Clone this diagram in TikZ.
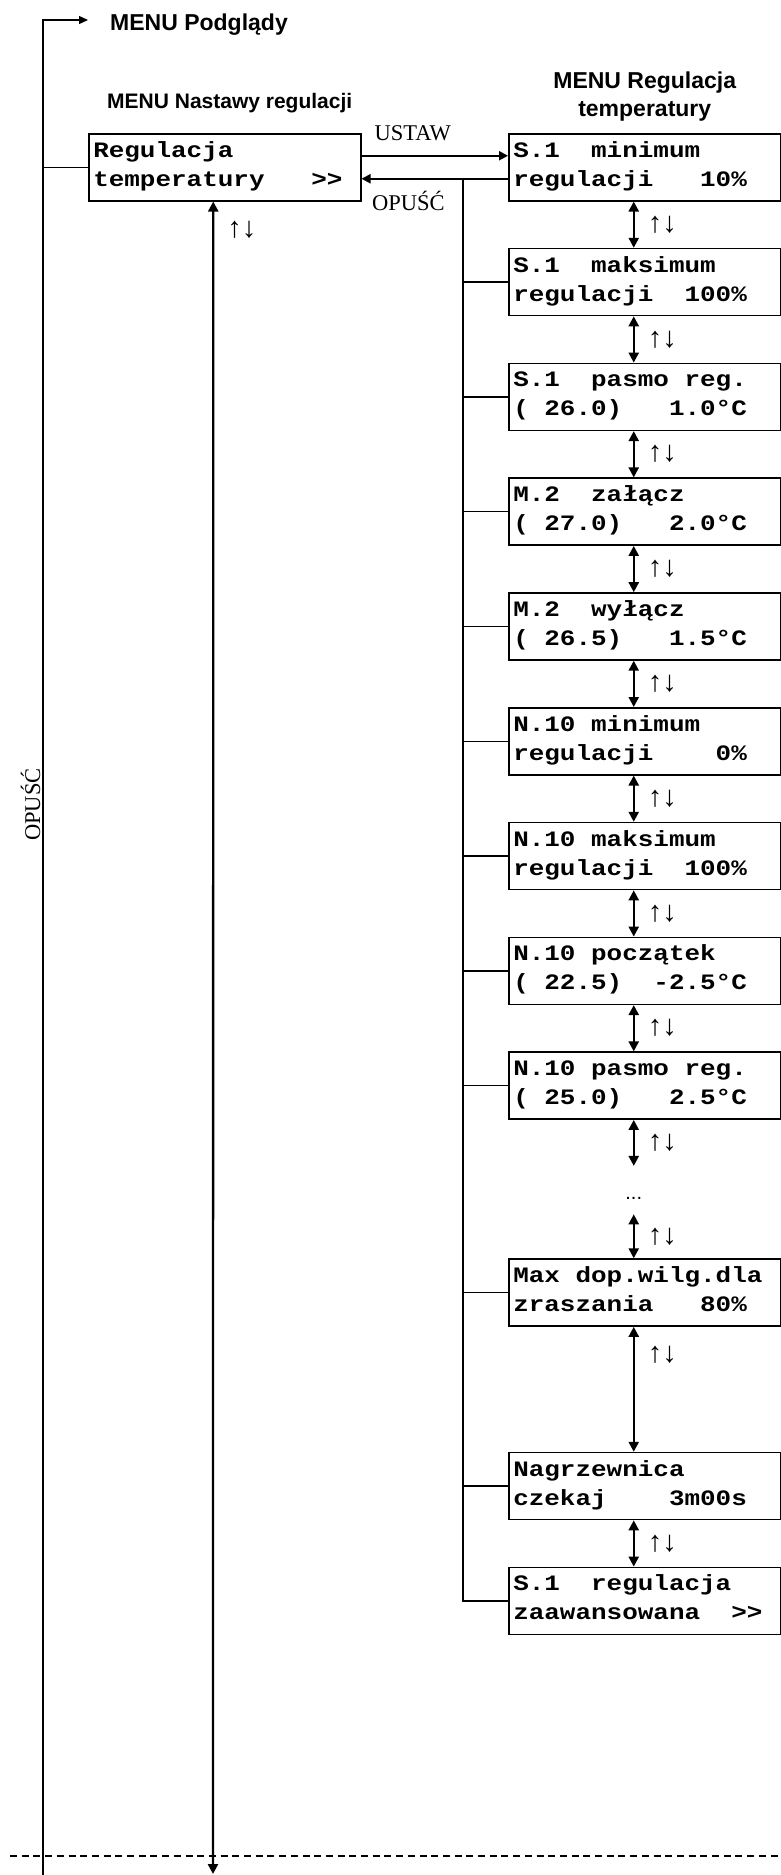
\documentclass[tikz,border=0pt]{standalone}
\usepackage{fontspec}
\setmainfont{Liberation Serif}
\newfontfamily\lcdfont{Liberation Mono}[FakeStretch=1.18]
\newfontfamily\headfont{Liberation Sans}
\usetikzlibrary{arrows.meta, positioning}
\newcommand{\lcdsp}{\hphantom{0}}

\begin{document}
\begin{tikzpicture}[
    x=1pt, y=-1pt,
    lcd/.style={draw, line width=1.5pt, text width=263pt, inner xsep=4.5pt,
                minimum height=67pt, align=left,
                font=\lcdfont\bfseries\fontsize{22}{29}\selectfont\frenchspacing,
                execute at end node={\rule[-7pt]{0pt}{7pt}}},
    head/.style={font=\headfont\bfseries\fontsize{21}{28}\selectfont,
                 align=center, inner sep=0pt},
    lbl/.style={font=\fontsize{22.5}{27}\selectfont, inner sep=0pt},
    updn/.style={font=\fontsize{29}{30}\selectfont, inner sep=0pt},
    nav/.style={<->, >={Triangle[length=10pt,width=10pt]}, line width=2.3pt},
    arr/.style={->, >={Triangle[length=9pt,width=9pt]}, line width=2pt},
    tie/.style={line width=1.3pt},
    cut/.style={dash pattern=on 7pt off 4.7pt, line width=1.4pt},
    node distance=46.3pt
]
    \useasboundingbox (0,0) rectangle (780,1875);

    % left column
    \node[lcd, anchor=north west] (lb) at (88,133) {Regulacja\\temperatury\lcdsp\lcdsp\lcdsp>\kern0pt>};
    \node[head, above=20pt of lb, xshift=5pt] (hn) {MENU Nastawy regulacji};
    \node[head, font=\headfont\bfseries\fontsize{23}{28}\selectfont,
          inner xsep=22pt, anchor=base west] (pod) at (88,30) {MENU Podglądy};

    % right column
    \node[lcd, anchor=north west] (s1) at (508,133) {S.1\lcdsp\lcdsp minimum\\regulacji\lcdsp\lcdsp\lcdsp 10\%};
    \node[head, font=\headfont\bfseries\fontsize{23}{28}\selectfont,
          above=11.4pt of s1] (hr) {MENU Regulacja\\temperatury};
    \node[lcd, below=of s1] (s2) {S.1\lcdsp\lcdsp maksimum\\regulacji\lcdsp\lcdsp 100\%};
    \node[lcd, below=of s2] (s3) {S.1\lcdsp\lcdsp pasmo\lcdsp reg.\\(\lcdsp 26.0)\lcdsp\lcdsp\lcdsp 1.0°C};
    \node[lcd, below=of s3] (s4) {M.2\lcdsp\lcdsp załącz\\(\lcdsp 27.0)\lcdsp\lcdsp\lcdsp 2.0°C};
    \node[lcd, below=of s4] (s5) {M.2\lcdsp\lcdsp wyłącz\\(\lcdsp 26.5)\lcdsp\lcdsp\lcdsp 1.5°C};
    \node[lcd, below=of s5] (s6) {N.10\lcdsp minimum\\regulacji\lcdsp\lcdsp\lcdsp\lcdsp 0\%};
    \node[lcd, below=of s6] (s7) {N.10\lcdsp maksimum\\regulacji\lcdsp\lcdsp 100\%};
    \node[lcd, below=of s7] (s8) {N.10\lcdsp początek\\(\lcdsp 22.5)\lcdsp\lcdsp -2.5°C};
    \node[lcd, below=of s8] (s9) {N.10\lcdsp pasmo\lcdsp reg.\\(\lcdsp 25.0)\lcdsp\lcdsp\lcdsp 2.5°C};
    \node[font=\headfont\fontsize{20}{24}\selectfont, inner sep=0pt,
          minimum height=48pt, text height=18pt, text depth=0pt,
          below=46pt of s9, xshift=-11pt] (dt) {...};
    \node[lcd, below=44pt of dt, xshift=11pt] (mx) {Max\lcdsp dop.wilg.dla\\zraszania\lcdsp\lcdsp\lcdsp 80\%};
    \node[lcd, below=125pt of mx] (ng) {Nagrzewnica\\czekaj\lcdsp\lcdsp\lcdsp\lcdsp 3m00s};
    \node[lcd, below=of ng] (sz) {S.1\lcdsp\lcdsp regulacja\\zaawansowana\lcdsp\lcdsp>\kern0pt>};

    \coordinate (ltop) at (43,20);
    \coordinate (lend) at (43,1875);
    \coordinate (lbot) at (213,1874);
    \coordinate (bt) at (463,178);
    \coordinate (dl) at (10,1856);
    \coordinate (dr) at (780,1856);

    % back path to MENU Podglady
    \draw[tie, -{Triangle[length=9pt,width=8pt]}] (lend)
        -- node[lbl, pos=0.577, rotate=90, anchor=south, inner sep=2pt]{OPUŚĆ} (ltop)
        -- (ltop -| pod.west);
    \draw[tie] (lb.west) -- (lb.west -| ltop);
    \draw[nav] ([xshift=-11.5pt]lb.south) -- node[updn, pos=0.017, right=13pt]{↑↓} (lbot);

    % enter / leave
    \draw[arr] ([yshift=11.5pt]lb.east) -- node[lbl, pos=0.35, above=14pt]{USTAW} ([yshift=11.5pt]s1.west);
    \draw[arr] ([yshift=-11.5pt]s1.west) -- node[lbl, pos=0.68, below=11pt]{OPUŚĆ} ([yshift=-11.5pt]lb.east);

    % bus back to OPUŚĆ
    \draw[line width=2pt] (bt) -- (bt |- sz.west) -- (sz.west);
    \draw[tie] (s2.west) -- (s2.west -| bt);
    \draw[tie] (s3.west) -- (s3.west -| bt);
    \draw[tie] (s4.west) -- (s4.west -| bt);
    \draw[tie] (s5.west) -- (s5.west -| bt);
    \draw[tie] (s6.west) -- (s6.west -| bt);
    \draw[tie] (s7.west) -- (s7.west -| bt);
    \draw[tie] (s8.west) -- (s8.west -| bt);
    \draw[tie] (s9.west) -- (s9.west -| bt);
    \draw[tie] (mx.west) -- (mx.west -| bt);
    \draw[tie] (ng.west) -- (ng.west -| bt);

    % up / down between screens
    \draw[nav] ([xshift=-11pt]s1.south) -- node[updn, right=13pt]{↑↓} ([xshift=-11pt]s2.north);
    \draw[nav] ([xshift=-11pt]s2.south) -- node[updn, right=13pt]{↑↓} ([xshift=-11pt]s3.north);
    \draw[nav] ([xshift=-11pt]s3.south) -- node[updn, right=13pt]{↑↓} ([xshift=-11pt]s4.north);
    \draw[nav] ([xshift=-11pt]s4.south) -- node[updn, right=13pt]{↑↓} ([xshift=-11pt]s5.north);
    \draw[nav] ([xshift=-11pt]s5.south) -- node[updn, right=13pt]{↑↓} ([xshift=-11pt]s6.north);
    \draw[nav] ([xshift=-11pt]s6.south) -- node[updn, right=13pt]{↑↓} ([xshift=-11pt]s7.north);
    \draw[nav] ([xshift=-11pt]s7.south) -- node[updn, right=13pt]{↑↓} ([xshift=-11pt]s8.north);
    \draw[nav] ([xshift=-11pt]s8.south) -- node[updn, right=13pt]{↑↓} ([xshift=-11pt]s9.north);
    \draw[nav] ([xshift=-11pt]s9.south) -- node[updn, right=13pt]{↑↓} (dt.north);
    \draw[nav] (dt.south) -- node[updn, right=13pt]{↑↓} ([xshift=-11pt]mx.north);
    \draw[nav] ([xshift=-11pt]mx.south) -- node[updn, pos=0.22, right=13pt]{↑↓} ([xshift=-11pt]ng.north);
    \draw[nav] ([xshift=-11pt]ng.south) -- node[updn, right=13pt]{↑↓} ([xshift=-11pt]sz.north);

    % cut line
    \draw[cut] (dl) -- (dr);
\end{tikzpicture}
\end{document}
